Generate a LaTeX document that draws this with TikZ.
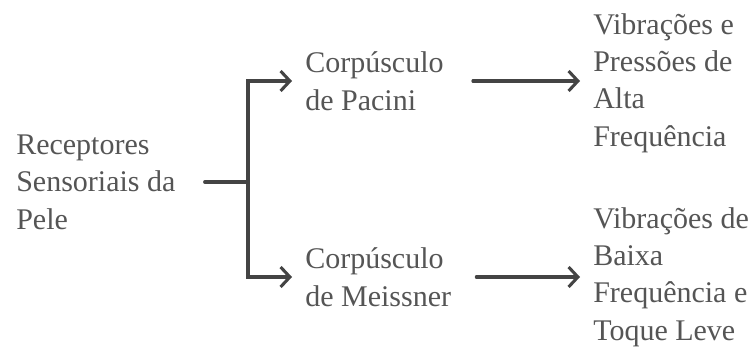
\documentclass[tikz,border=0pt]{standalone}
\usepackage{fontspec}
\setmainfont{Liberation Serif}
\usetikzlibrary{arrows.meta}
\definecolor{rsink}{HTML}{555555}
\definecolor{rsline}{HTML}{444444}

\begin{document}
\begin{tikzpicture}[x=0.75pt, y=-0.75pt, line cap=round,
    txt/.style={anchor=west, align=left, inner xsep=9.75pt, inner ysep=0pt,
      text=rsink, font=\fontsize{22.5}{28.1}\selectfont},
    wire/.style={rsline, line width=2.3pt},
    link/.style={wire, -{Straight Barb[length=7pt, width=15pt, line width=2.3pt]}}]
  \useasboundingbox (0,0) rectangle (756,349);
  % text blocks
  \node[txt] (src) at (3,182) {Receptores\\Sensoriais da\\Pele};
  \node[txt] (pacini) at (292,81) {Corpúsculo\\de Pacini};
  \node[txt] (meissner) at (292,277) {Corpúsculo\\de Meissner};
  \node[txt] (alta) at (580,83) {Vibrações e\\Pressões de\\Alta\\Frequência};
  \node[txt] (baixa) at (580,277) {Vibrações de\\Baixa\\Frequência e\\Toque Leve};
  % connectors
  \coordinate (fork) at (248,182);
  \draw[wire, shorten <=12pt] (src.east) -- (fork);
  \draw[link] (fork) |- (pacini.west);
  \draw[link] (fork) |- (meissner.west);
  \draw[link, shorten <=12pt] (pacini.east) -- (alta.west |- pacini.west);
  \draw[link, shorten <=9pt] (meissner.east) -- (baixa.west |- meissner.west);
\end{tikzpicture}
\end{document}
